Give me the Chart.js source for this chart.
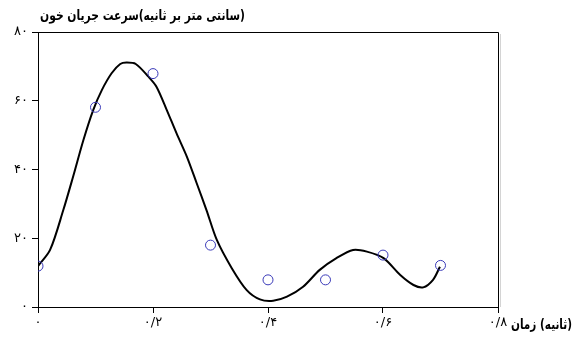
<!DOCTYPE html>
<html>
<head>
<meta charset="utf-8">
<script src="https://cdn.jsdelivr.net/npm/chart.js@4"></script>
<style>
  body { margin: 0; background: #fff; }
  canvas { display: block; }
</style>
</head>
<body>
<canvas id="flow-chart" width="580" height="338"></canvas>
<script>
// measured samples (blue circles)
const sampleTimes = [0, 0.1, 0.2, 0.3, 0.4, 0.5, 0.6, 0.7];
const sampleFlow = [11.9, 58.1, 67.9, 18.0, 7.9, 7.9, 15.1, 12.1];

// fitted curve
const curveTimes = [0, 0.021, 0.044, 0.061, 0.079, 0.096, 0.111, 0.128, 0.143, 0.154, 0.170, 0.192, 0.206, 0.224, 0.241, 0.259, 0.276, 0.293, 0.311, 0.337, 0.363, 0.386, 0.409, 0.433, 0.461, 0.490, 0.519, 0.548, 0.572, 0.601, 0.630, 0.653, 0.670, 0.687, 0.699];
const curveFlow = [11.9, 16.6, 28.2, 37.9, 48.6, 57.3, 63.1, 68.0, 70.7, 71.1, 70.7, 67.0, 64.1, 57.3, 50.5, 43.7, 36.0, 28.2, 19.5, 11.3, 4.9, 2.2, 1.8, 3.0, 5.9, 10.8, 14.2, 16.6, 16.1, 14.2, 9.3, 6.4, 5.7, 7.9, 11.7];

const yTicks = [0, 20, 40, 60, 80];
const xTicks = [0, 0.2, 0.4, 0.6, 0.8];

const yTitle = '(سانتی متر بر ثانیه)سرعت جریان خون';
const xTitle = '(ثانیه) زمان';

const faDigits = '۰۱۲۳۴۵۶۷۸۹';
function toPersian(str) {
  return String(str).replace(/[0-9]/g, d => faDigits[d]).replace('.', '/');
}

// fit text into a given width
function fitText(ctx, text, x, y, w) {
  const m = ctx.measureText(text).width;
  ctx.save();
  ctx.translate(x, y);
  ctx.scale(w / m, 1);
  ctx.fillText(text, 0, 0);
  ctx.restore();
}

const titlesPlugin = {
  id: 'titles',
  afterDraw(chart) {
    const ctx = chart.ctx;
    const area = chart.chartArea;
    ctx.save();
    // top and right frame
    ctx.strokeStyle = '#000';
    ctx.lineWidth = 1;
    ctx.beginPath();
    ctx.moveTo(area.left, area.top + 0.5);
    ctx.lineTo(area.right + 0.5, area.top + 0.5);
    ctx.lineTo(area.right + 0.5, area.bottom);
    ctx.stroke();
    ctx.strokeStyle = '#d4d4d4';
    ctx.beginPath();
    ctx.moveTo(area.right + 2.5, area.top + 2);
    ctx.lineTo(area.right + 2.5, area.bottom);
    ctx.stroke();

    ctx.fillStyle = '#000';
    ctx.font = '600 14px "DejaVu Sans"';
    ctx.direction = 'rtl';
    ctx.textBaseline = 'middle';
    ctx.textAlign = 'left';
    fitText(ctx, yTitle, 40, 16, 205);
    fitText(ctx, xTitle, 511, 325, 61);
    ctx.restore();
  }
};

const ctx = document.getElementById('flow-chart').getContext('2d');
new Chart(ctx, {
  type: 'scatter',
  data: {
    datasets: [
      {
        data: sampleTimes.map((t, i) => ({ x: t, y: sampleFlow[i] })),
        pointRadius: 5,
        pointHoverRadius: 5,
        pointBorderColor: '#3a3ab8',
        pointBackgroundColor: 'rgba(0,0,0,0)',
        pointBorderWidth: 1,
        showLine: false
      },
      {
        data: curveTimes.map((t, i) => ({ x: t, y: curveFlow[i] })),
        showLine: true,
        borderColor: '#000',
        borderWidth: 2,
        tension: 0.3,
        pointRadius: 0
      }
    ]
  },
  options: {
    responsive: false,
    animation: false,
    layout: { padding: { top: 32, right: 82, left: 0, bottom: 0 } },
    plugins: { legend: { display: false }, tooltip: { enabled: false } },
    scales: {
      x: {
        type: 'linear',
        min: 0,
        max: 0.8,
        afterFit: s => { s.height = 31; },
        afterBuildTicks: s => { s.ticks = xTicks.map(v => ({ value: v })); },
        grid: { drawOnChartArea: false, drawTicks: true, tickLength: 6, color: '#000' },
        border: { display: true, color: '#000' },
        ticks: {
          color: '#000',
          font: { family: 'DejaVu Sans', size: 13 },
          padding: 2,
          maxRotation: 0,
          callback: v => toPersian(v === 0 ? '0' : v.toFixed(1))
        }
      },
      y: {
        min: 0,
        max: 80,
        afterFit: s => { s.width = 38; },
        afterBuildTicks: s => { s.ticks = yTicks.map(v => ({ value: v })); },
        grid: { drawOnChartArea: false, drawTicks: true, tickLength: 6, color: '#000' },
        border: { display: true, color: '#000' },
        ticks: {
          color: '#000',
          font: { family: 'DejaVu Sans', size: 13 },
          padding: 4,
          callback: v => toPersian(v)
        }
      }
    }
  },
  plugins: [titlesPlugin]
});
</script>
</body>
</html>
